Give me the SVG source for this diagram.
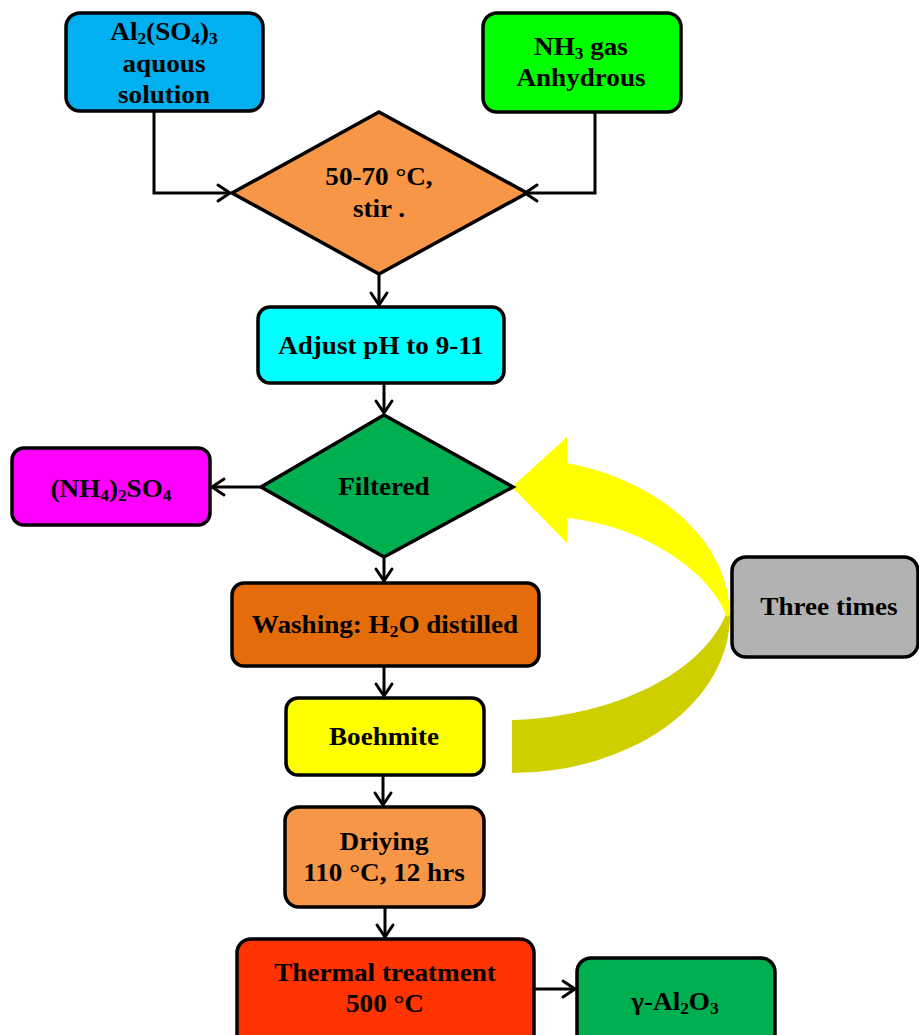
<svg xmlns="http://www.w3.org/2000/svg" width="919" height="1035" viewBox="0 0 919 1035">
<style>
.box{stroke:#000;stroke-width:3.5;}
.t{font-family:"Liberation Serif","Times New Roman",serif;font-weight:bold;font-size:25px;fill:#000;text-anchor:middle;}
.sub{font-size:16px;}
.c{fill:none;stroke:#000;stroke-width:3;}
</style>
<defs>
<marker id="ah" markerUnits="userSpaceOnUse" markerWidth="16" markerHeight="20" refX="13" refY="9" orient="auto" overflow="visible">
<path d="M1,1 L13,9 L1,17" fill="none" stroke="#000" stroke-width="3" stroke-linecap="round" stroke-linejoin="round"/>
</marker>
</defs>
<rect width="919" height="1035" fill="#fff"/>

<g id="loop-arrow">
<path d="M730,615 A218 158 0 0 1 512,773 L512,720 C600,718 700,680 727,612 Z" fill="#CFCF00"/>
<path d="M730,615 A218 158 0 0 0 567,463 L567,437 L512,487 L567,543 L567,518 C640,525 710,570 727,617 Z" fill="#FFFF00"/>
</g>

<g id="connectors">
<path class="c" d="M154,111 V193 H230" marker-end="url(#ah)"/>
<path class="c" d="M595,112 V193 H525" marker-end="url(#ah)"/>
<path class="c" d="M379,274 V305" marker-end="url(#ah)"/>
<path class="c" d="M384,383 V413" marker-end="url(#ah)"/>
<path class="c" d="M261,487 H212" marker-end="url(#ah)"/>
<path class="c" d="M384,557 V581" marker-end="url(#ah)"/>
<path class="c" d="M384,666 V696" marker-end="url(#ah)"/>
<path class="c" d="M383,775 V805" marker-end="url(#ah)"/>
<path class="c" d="M385,907 V937" marker-end="url(#ah)"/>
<path class="c" d="M534,989 H575" marker-end="url(#ah)"/>
</g>

<g id="al2so43">
<rect class="box" x="66" y="13" width="197" height="98" rx="14" fill="#00B0F0"/>
<text class="t" transform="translate(164,0) scale(1.085,1)"><tspan x="0" y="40">Al<tspan class="sub" dy="4">2</tspan><tspan dy="-4">(SO</tspan><tspan class="sub" dy="4">4</tspan><tspan dy="-4">)</tspan><tspan class="sub" dy="4">3</tspan></tspan><tspan x="0" y="72">aquous</tspan><tspan x="0" y="103">solution</tspan></text>
</g>

<g id="nh3">
<rect class="box" x="483" y="13" width="198" height="99" rx="14" fill="#00FF00"/>
<text class="t" transform="translate(581,0) scale(1.085,1)"><tspan x="0" y="55">NH<tspan class="sub" dy="4">3</tspan><tspan dy="-4"> gas</tspan></tspan><tspan x="0" y="86">Anhydrous</tspan></text>
</g>

<g id="mix">
<polygon class="box" points="379,112 527,193 379,274 232,193" fill="#F79646"/>
<text class="t" transform="translate(379,0) scale(1.085,1)"><tspan x="0" y="185">50-70 °C,</tspan><tspan x="0" y="217">stir .</tspan></text>
</g>

<g id="adjust">
<rect class="box" x="258" y="307" width="246" height="76" rx="12" fill="#00FFFF"/>
<text class="t" transform="translate(381,354) scale(1.085,1)" x="0" y="0">Adjust pH to 9-11</text>
</g>

<g id="filtered">
<polygon class="box" points="384,415 513,487 384,557 261,487" fill="#00B050"/>
<text class="t" transform="translate(384,495) scale(1.085,1)" x="0" y="0">Filtered</text>
</g>

<g id="nh42so4">
<rect class="box" x="12" y="448" width="198" height="77" rx="12" fill="#FF00FF"/>
<text class="t" transform="translate(111,497) scale(1.085,1)"><tspan x="0" y="0">(NH<tspan class="sub" dy="4">4</tspan><tspan dy="-4">)</tspan><tspan class="sub" dy="4">2</tspan><tspan dy="-4">SO</tspan><tspan class="sub" dy="4">4</tspan></tspan></text>
</g>

<g id="washing">
<rect class="box" x="232" y="583" width="307" height="83" rx="12" fill="#E46C0A"/>
<text class="t" transform="translate(385,633) scale(1.085,1)"><tspan x="0" y="0">Washing: H<tspan class="sub" dy="4">2</tspan><tspan dy="-4">O distilled</tspan></tspan></text>
</g>

<g id="boehmite">
<rect class="box" x="286" y="698" width="198" height="77" rx="12" fill="#FFFF00"/>
<text class="t" transform="translate(384,745) scale(1.085,1)" x="0" y="0">Boehmite</text>
</g>

<g id="three-times">
<rect class="box" x="732" y="557" width="186" height="100" rx="14" fill="#B2B2B2"/>
<text class="t" transform="translate(829,615) scale(1.085,1)" x="0" y="0">Three times</text>
</g>

<g id="drying">
<rect class="box" x="285" y="807" width="199" height="100" rx="14" fill="#F79646"/>
<text class="t" transform="translate(384,0) scale(1.085,1)"><tspan x="0" y="850">Driying</tspan><tspan x="0" y="881">110 °C, 12 hrs</tspan></text>
</g>

<g id="thermal">
<rect class="box" x="237" y="939" width="297" height="110" rx="14" fill="#FF3300"/>
<text class="t" transform="translate(385,0) scale(1.085,1)"><tspan x="0" y="981">Thermal treatment</tspan><tspan x="0" y="1012">500 °C</tspan></text>
</g>

<g id="gamma-al2o3">
<rect class="box" x="577" y="958" width="198" height="90" rx="14" fill="#00B050"/>
<text class="t" transform="translate(675,1010) scale(1.085,1)"><tspan x="0" y="0">γ-Al<tspan class="sub" dy="4">2</tspan><tspan dy="-4">O</tspan><tspan class="sub" dy="4">3</tspan></tspan></text>
</g>
</svg>
